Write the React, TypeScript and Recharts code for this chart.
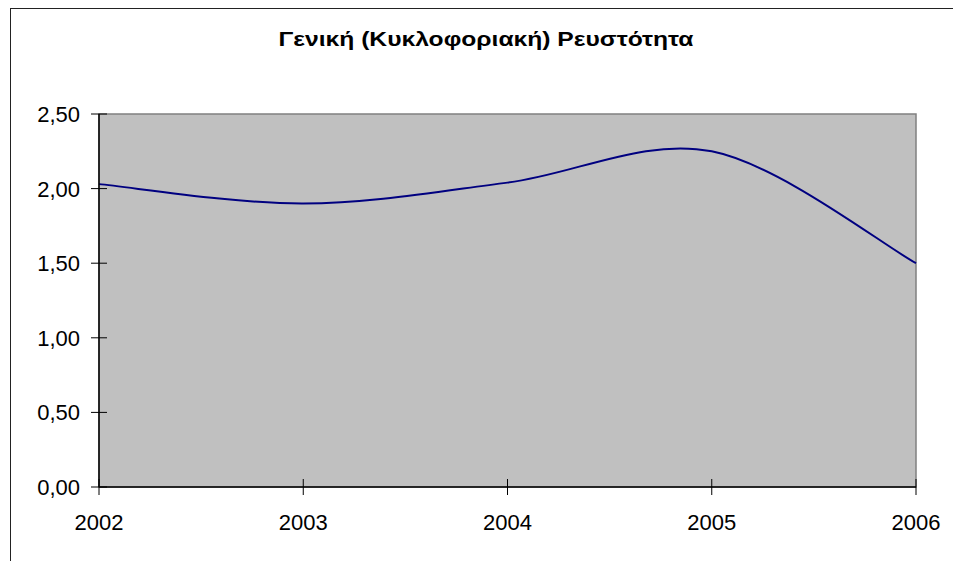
import React from "react";
import { LineChart, Line, XAxis, YAxis, ReferenceArea } from "recharts";

const years = [2002, 2003, 2004, 2005, 2006];
const ratio = [2.03, 1.9, 2.04, 2.25, 1.5];
const yTicks = [0, 0.5, 1, 1.5, 2, 2.5];

const data = years.map((year, i) => ({ year, ratio: ratio[i] }));

// Excel-like smoothed line (Catmull-Rom through the points)
const excelSmooth = (context: any) => {
  let pts: [number, number][] = [];
  return {
    areaStart() {},
    areaEnd() {},
    lineStart() {
      pts = [];
    },
    point(x: number, y: number) {
      pts.push([+x, +y]);
    },
    lineEnd() {
      if (!pts.length) return;
      context.moveTo(pts[0][0], pts[0][1]);
      for (let i = 0; i < pts.length - 1; i++) {
        const p0 = pts[Math.max(i - 1, 0)];
        const p1 = pts[i];
        const p2 = pts[i + 1];
        const p3 = pts[Math.min(i + 2, pts.length - 1)];
        context.bezierCurveTo(
          p1[0] + (p2[0] - p0[0]) / 6,
          p1[1] + (p2[1] - p0[1]) / 6,
          p2[0] - (p3[0] - p1[0]) / 6,
          p2[1] - (p3[1] - p1[1]) / 6,
          p2[0],
          p2[1]
        );
      }
    },
  };
};

const font = "'Liberation Sans', Arial, sans-serif";

const YTick = (props: any) => {
  const { x, y, payload } = props;
  return (
    <g>
      <line x1={x - 8} x2={x + 8} y1={y} y2={y} stroke="#000" strokeWidth={1} />
      <text x={x - 19} y={y} dy="0.36em" textAnchor="end" fontSize={22} fontFamily={font} fill="#000">
        {payload.value.toFixed(2).replace(".", ",")}
      </text>
    </g>
  );
};

const XTick = (props: any) => {
  const { x, y, payload } = props;
  return (
    <g>
      <line x1={x} x2={x} y1={y - 8} y2={y + 8} stroke="#000" strokeWidth={1} />
      <text x={x} y={y + 43} textAnchor="middle" fontSize={22} fontFamily={font} fill="#000">
        {payload.value}
      </text>
    </g>
  );
};

export default function App() {
  return (
    <div style={{ position: "absolute", left: 0, top: 0, width: 953, height: 561, overflow: "hidden", background: "#fff" }}>
      <div
        style={{
          position: "absolute",
          left: 10,
          top: 8,
          width: 943,
          height: 553,
          borderLeft: "1.5px solid #222",
          borderTop: "1.5px solid #222",
          boxSizing: "border-box",
        }}
      />
      <div style={{ position: "absolute", left: 0, top: 0 }}>
        <LineChart width={953} height={561} data={data} margin={{ top: 114, right: 37, bottom: 34, left: 0 }}>
          <text
            x={486}
            y={46}
            textAnchor="middle"
            fontSize={21}
            fontWeight="bold"
            fontFamily={font}
            fill="#000"
            textLength={415}
            lengthAdjust="spacingAndGlyphs"
          >
            Γενική (Κυκλοφοριακή) Ρευστότητα
          </text>
          <ReferenceArea
            x1={years[0]}
            x2={years[years.length - 1]}
            y1={yTicks[0]}
            y2={yTicks[yTicks.length - 1]}
            fill="#C0C0C0"
            fillOpacity={1}
            stroke="#808080"
            strokeWidth={1.5}
            ifOverflow="visible"
          />
          <XAxis
            dataKey="year"
            type="number"
            domain={[years[0], years[years.length - 1]]}
            ticks={years}
            height={40}
            tickSize={0}
            tickMargin={0}
            tickLine={false}
            axisLine={{ stroke: "#000", strokeWidth: 1.5 }}
            tick={<XTick />}
            interval={0}
          />
          <YAxis
            type="number"
            domain={[0, 2.5]}
            ticks={yTicks}
            width={99}
            tickSize={0}
            tickMargin={0}
            tickLine={false}
            axisLine={{ stroke: "#000", strokeWidth: 1.5 }}
            tick={<YTick />}
            interval={0}
          />
          <Line
            dataKey="ratio"
            type={excelSmooth as any}
            stroke="#000080"
            strokeWidth={2}
            dot={false}
            activeDot={false}
            isAnimationActive={false}
          />
        </LineChart>
      </div>
    </div>
  );
}
